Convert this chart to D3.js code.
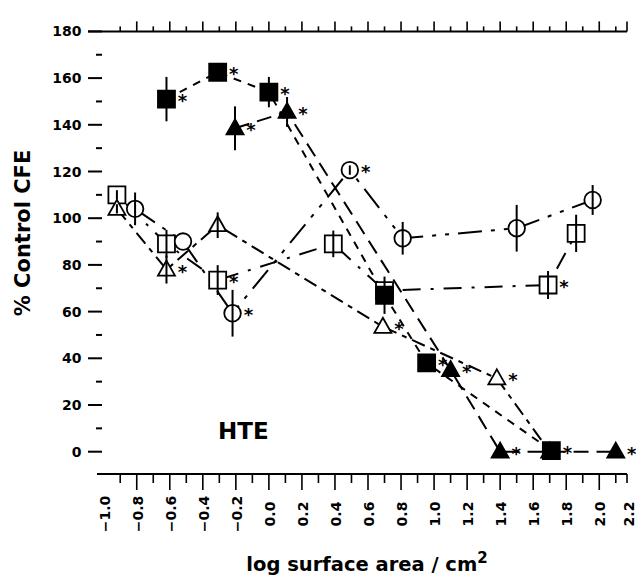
<!DOCTYPE html>
<html>
<head>
<meta charset="utf-8">
<script src="https://cdn.jsdelivr.net/npm/d3@7"></script>
<style>
   body { margin: 0; background: #fff; }
   text { font-family: "DejaVu Sans", sans-serif; font-weight: bold; fill: #000; }
</style>
</head>
<body>
<div id="chart"></div>
<script>
"use strict";

// each point: x = log area, y = % control CFE, e = error half-width, s = significance star
const filledSquares = [
   { x: -0.62, y: 151, e: 9.5, s: 1 },
   { x: -0.31, y: 162.5, e: 2, s: 1 },
   { x: 0.0, y: 154, e: 6.5, s: 1 },
   { x: 0.70, y: 67, e: 8, s: 0 },
   { x: 0.955, y: 38, e: 0, s: 1 },
   { x: 1.71, y: 0.5, e: 0, s: 1 }
];
const filledTriangles = [
   { x: -0.205, y: 138.5, e: 9.4, s: 1 },
   { x: 0.11, y: 145.5, e: 6.4, s: 1 },
   { x: 1.10, y: 35, e: 0, s: 1 },
   { x: 1.40, y: 0, e: 0, s: 1 },
   { x: 2.10, y: 0, e: 0, s: 1 }
];
const openCircles = [
   { x: -0.81, y: 104, e: 7, s: 0 },
   { x: -0.52, y: 90, e: 0, s: 0 },
   { x: -0.22, y: 59.3, e: 10, s: 1 },
   { x: 0.49, y: 120.6, e: 2, s: 1 },
   { x: 0.81, y: 91.4, e: 7, s: 0 },
   { x: 1.50, y: 95.7, e: 10, s: 0 },
   { x: 1.96, y: 107.8, e: 6.4, s: 0 }
];
const openSquares = [
   { x: -0.92, y: 110, e: 2, s: 0 },
   { x: -0.62, y: 89, e: 6, s: 0 },
   { x: -0.31, y: 73.5, e: 6.4, s: 1 },
   { x: 0.39, y: 89, e: 5.7, s: 0 },
   { x: 0.70, y: 69, e: 0, s: 0 },
   { x: 1.69, y: 71.4, e: 6, s: 1 },
   { x: 1.86, y: 93.5, e: 8, s: 0 }
];
const openTriangles = [
   { x: -0.92, y: 104, e: 2, s: 0 },
   { x: -0.62, y: 78, e: 6, s: 1 },
   { x: -0.31, y: 97, e: 5.5, s: 0 },
   { x: 0.69, y: 53.5, e: 0, s: 1 },
   { x: 1.38, y: 31.4, e: 0, s: 1 },
   { x: 1.70, y: 0, e: 0, s: 0 }
];

const yTicks = d3.range(0, 181, 10);
const xTicks = d3.range(-10, 23).map(i => i / 10);

const width = 636, height = 577;

const svg = d3.select("#chart")
   .append("svg")
   .attr("width", width)
   .attr("height", height);

const x = d3.scaleLinear().domain([-1.0, 2.2]).range([103.7, 632.3]);
const y = d3.scaleLinear().domain([0, 180]).range([451.7, 31.4]);

const yTop = y(180);
const yBottom = 474;

// draw order: open markers first, filled ones on top
const series = [
   { data: openSquares, shape: "square", fill: "#fff", dash: "3,10,18,10" },
   { data: openTriangles, shape: "triangle", fill: "#fff", dash: "14,6,5,6" },
   { data: openCircles, shape: "circle", fill: "#fff", dash: "24,9,4,9,4,9" },
   { data: filledTriangles, shape: "triangle", fill: "#000", dash: "15,8" },
   { data: filledSquares, shape: "square", fill: "#000", dash: "8,7" }
];

// top frame line with upward ticks
svg.append("line")
   .attr("x1", 88).attr("x2", 627)
   .attr("y1", yTop).attr("y2", yTop)
   .attr("stroke", "#000").attr("stroke-width", 2);

svg.append("g")
   .selectAll("line")
   .data(xTicks.filter(v => v > -1.0 && v < 2.15))
   .join("line")
   .attr("x1", d => x(d)).attr("x2", d => x(d))
   .attr("y1", yTop)
   .attr("y2", d => Math.round(d * 10) % 2 === 0 ? yTop - 10 : yTop - 5)
   .attr("stroke", "#000").attr("stroke-width", 1.6);

svg.append("line")
   .attr("x1", 627).attr("x2", 627)
   .attr("y1", yTop).attr("y2", yTop - 10)
   .attr("stroke", "#000").attr("stroke-width", 1.6);

// bottom x axis
svg.append("line")
   .attr("x1", 97).attr("x2", 627)
   .attr("y1", yBottom).attr("y2", yBottom)
   .attr("stroke", "#000").attr("stroke-width", 2);

svg.append("g")
   .selectAll("line")
   .data(xTicks.filter(v => v > -1.0 && v < 2.15))
   .join("line")
   .attr("x1", d => x(d)).attr("x2", d => x(d))
   .attr("y1", yBottom)
   .attr("y2", d => Math.round(d * 10) % 2 === 0 ? yBottom + 16 : yBottom + 9)
   .attr("stroke", "#000").attr("stroke-width", 1.6);

svg.append("line")
   .attr("x1", 627).attr("x2", 627)
   .attr("y1", yBottom).attr("y2", yBottom + 9)
   .attr("stroke", "#000").attr("stroke-width", 1.6);

// last label sits at the edge, keep it inside
svg.append("g")
   .selectAll("text")
   .data(xTicks.filter(v => Math.round(v * 10) % 2 === 0))
   .join("text")
   .attr("transform", d => `translate(${Math.min(x(d) + 1, 629)},514) rotate(-90)`)
   .attr("text-anchor", "middle")
   .attr("dominant-baseline", "central")
   .style("font-size", "14px")
   .text(d => d3.format(".1f")(d));

// left y ticks, no spine
svg.append("g")
   .selectAll("line")
   .data(yTicks)
   .join("line")
   .attr("x1", d => d % 20 === 0 ? 88 : 96)
   .attr("x2", 102)
   .attr("y1", d => y(d)).attr("y2", d => y(d))
   .attr("stroke", "#000").attr("stroke-width", 2);

svg.append("g")
   .selectAll("text")
   .data(yTicks.filter(d => d % 20 === 0))
   .join("text")
   .attr("x", 81.5)
   .attr("y", d => y(d))
   .attr("text-anchor", "end")
   .attr("dominant-baseline", "central")
   .style("font-size", "14px")
   .text(d => d);

// axis titles
svg.append("text")
   .attr("transform", "translate(30,233) rotate(-90)")
   .attr("text-anchor", "middle")
   .style("font-size", "21px")
   .text("% Control CFE");

const xTitle = svg.append("text")
   .attr("x", 367)
   .attr("y", 571)
   .attr("text-anchor", "middle")
   .style("font-size", "19.5px");
xTitle.append("tspan").text("log surface area / cm");
xTitle.append("tspan").attr("dy", -8).style("font-size", "15px").text("2");

svg.append("text")
   .attr("x", 218)
   .attr("y", 439)
   .style("font-size", "23px")
   .text("HTE");

// series lines
const line = d3.line().x(d => x(d.x)).y(d => y(d.y));

series.forEach(s => {
   svg.append("path")
      .datum(s.data)
      .attr("d", line)
      .attr("fill", "none")
      .attr("stroke", "#000")
      .attr("stroke-width", 2)
      .attr("stroke-dasharray", s.dash);
});

function markerPath(shape) {
   if (shape === "square") return "M-8.5,-8.5H8.5V8.5H-8.5Z";
   if (shape === "triangle") return "M0,-9L8.5,6H-8.5Z";
   return d3.symbol(d3.symbolCircle, Math.PI * 8.3 * 8.3)();
}

series.forEach(s => {
   const g = svg.append("g");

   g.selectAll("path")
      .data(s.data)
      .join("path")
      .attr("transform", d => `translate(${x(d.x)},${y(d.y)})`)
      .attr("d", markerPath(s.shape))
      .attr("fill", s.fill)
      .attr("stroke", "#000")
      .attr("stroke-width", 1.8);

   g.selectAll("line")
      .data(s.data.filter(d => d.e > 0))
      .join("line")
      .attr("x1", d => x(d.x)).attr("x2", d => x(d.x))
      .attr("y1", d => y(d.y - d.e)).attr("y2", d => y(d.y + d.e))
      .attr("stroke", "#000")
      .attr("stroke-width", 2);

   g.selectAll("text")
      .data(s.data.filter(d => d.s))
      .join("text")
      .attr("x", d => x(d.x) + 16)
      .attr("y", d => y(d.y) + 8)
      .attr("text-anchor", "middle")
      .style("font-size", "18px")
      .text("*");
});
</script>
</body>
</html>
